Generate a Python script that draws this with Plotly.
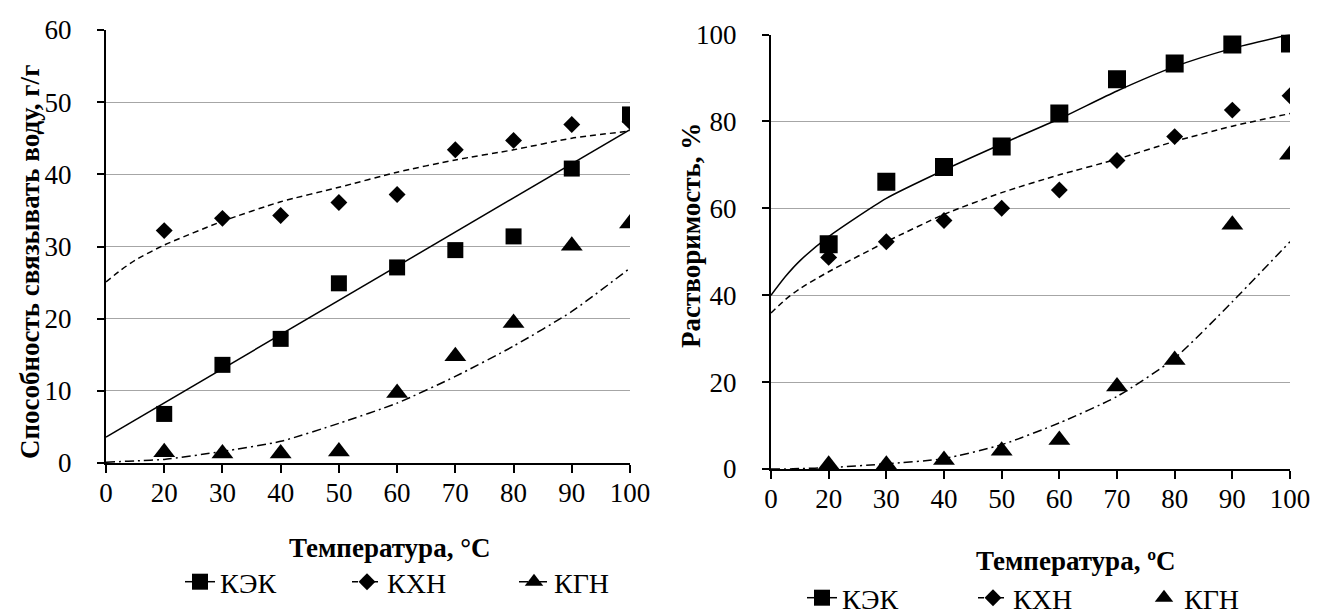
import plotly.graph_objects as go

# ---------------- data ----------------
temps = [20, 30, 40, 50, 60, 70, 80, 90, 100]
x_tick_labels = ["0", "20", "30", "40", "50", "60", "70", "80", "90", "100"]

# left chart: water binding capacity, g/g
left_kek = [6.8, 13.6, 17.2, 24.9, 27.1, 29.5, 31.4, 40.8, 48.3]
left_khn = [32.2, 33.9, 34.3, 36.1, 37.2, 43.4, 44.7, 46.9, 47.3]
left_kgn = [1.5, 1.3, 1.3, 1.6, 9.7, 14.8, 19.4, 30.1, 33.2]

# right chart: solubility, %
right_kek = [51.7, 66.1, 69.5, 74.2, 81.8, 89.7, 93.3, 97.7, 97.9]
right_khn = [48.7, 52.3, 57.2, 60.0, 64.2, 71.0, 76.5, 82.6, 85.9]
right_kgn = [1.0, 1.0, 2.1, 4.2, 6.7, 19.0, 25.1, 56.2, 72.3]

# trend lines (category position -> value)
trend_pos_full = [0, 0.25, 0.5, 1, 2, 3, 4, 5, 6, 7, 8, 9]
trend_pos_ends = [0, 9]
left_kek_trend = [3.6, 46.2]
left_khn_trend = [25.1, 26.7, 28.1, 30.2, 33.5, 36.2, 38.2, 40.3, 42.0, 43.4, 45.0, 46.0]
left_kgn_trend = [0.1, 0.2, 0.3, 0.5, 1.6, 3.0, 5.5, 8.3, 12.0, 16.2, 21.0, 27.0]
right_kek_trend = [40.0, 44.3, 47.9, 53.5, 62.3, 68.8, 74.8, 80.6, 87.0, 92.6, 96.8, 100.0]
right_khn_trend = [35.9, 39.0, 41.5, 45.4, 52.3, 58.6, 63.6, 67.7, 71.3, 75.4, 78.9, 81.8]
right_kgn_trend = [0.0, 0.0, 0.1, 0.3, 1.2, 2.4, 5.6, 10.6, 16.7, 25.5, 38.5, 52.3]

names = ["КЭК", "КХН", "КГН"]

# ---------------- styles ----------------
FONT = '"Times New Roman", "Liberation Serif", Tinos, "DejaVu Serif", serif'
BLACK = "#000000"
GRID = "#a6a6a6"
DASH_KHN = "6px,4px"
DASH_KGN = "9px,4px,2px,4px"

pos = [temps.index(t) + 1 for t in temps]

fig = go.Figure()

def add_chart(xa, ya, leg, kek, khn, kgn, t_kek, t_kek_pos, t_khn, t_kgn,
              sq_size, kgn_legend_line):
    # trend lines
    fig.add_trace(go.Scatter(x=t_kek_pos, y=t_kek, mode="lines", xaxis=xa, yaxis=ya,
                             line=dict(color=BLACK, width=1.5, shape="spline", smoothing=0.6),
                             showlegend=False, hoverinfo="skip"))
    fig.add_trace(go.Scatter(x=trend_pos_full, y=t_khn, mode="lines", xaxis=xa, yaxis=ya,
                             line=dict(color=BLACK, width=1.5, dash=DASH_KHN, shape="spline",
                                       smoothing=0.6),
                             showlegend=False, hoverinfo="skip"))
    fig.add_trace(go.Scatter(x=trend_pos_full, y=t_kgn, mode="lines", xaxis=xa, yaxis=ya,
                             line=dict(color=BLACK, width=1.5, dash=DASH_KGN, shape="spline",
                                       smoothing=0.6),
                             showlegend=False, hoverinfo="skip"))
    # markers
    fig.add_trace(go.Scatter(x=pos, y=kek, mode="markers", xaxis=xa, yaxis=ya,
                             marker=dict(symbol="square", size=sq_size, color=BLACK),
                             showlegend=False))
    fig.add_trace(go.Scatter(x=pos, y=khn, mode="markers", xaxis=xa, yaxis=ya,
                             marker=dict(symbol="diamond", size=13, color=BLACK),
                             showlegend=False))
    fig.add_trace(go.Scatter(x=pos, y=kgn, mode="markers", xaxis=xa, yaxis=ya,
                             marker=dict(symbol="triangle-up", size=19, color=BLACK),
                             showlegend=False))
    # legend entries
    fig.add_trace(go.Scatter(x=[None], y=[None], mode="lines+markers", name=names[0],
                             xaxis=xa, yaxis=ya, legend=leg,
                             line=dict(color=BLACK, width=1.5),
                             marker=dict(symbol="square", size=sq_size, color=BLACK)))
    fig.add_trace(go.Scatter(x=[None], y=[None], mode="lines+markers", name=names[1],
                             xaxis=xa, yaxis=ya, legend=leg,
                             line=dict(color=BLACK, width=1.5, dash=DASH_KHN),
                             marker=dict(symbol="diamond", size=13, color=BLACK)))
    fig.add_trace(go.Scatter(x=[None], y=[None],
                             mode="lines+markers" if kgn_legend_line else "markers",
                             name=names[2], xaxis=xa, yaxis=ya, legend=leg,
                             line=dict(color=BLACK, width=1.5, dash=DASH_KGN),
                             marker=dict(symbol="triangle-up", size=16, color=BLACK)))

add_chart("x", "y", "legend", left_kek, left_khn, left_kgn,
          left_kek_trend, trend_pos_ends, left_khn_trend, left_kgn_trend, 16, True)
add_chart("x2", "y2", "legend2", right_kek, right_khn, right_kgn,
          right_kek_trend, trend_pos_full, right_khn_trend, right_kgn_trend, 18, False)

W, H = 1318, 615

def px_x(p):
    return p / W

def px_y(p):
    return 1 - p / H

tick_font = dict(family=FONT, size=27, color=BLACK)

xaxis_common = dict(range=[0, 9], tickmode="array", tickvals=list(range(len(x_tick_labels))),
                    ticktext=x_tick_labels, showgrid=False, zeroline=False,
                    showline=True, linecolor=BLACK, linewidth=2,
                    ticks="outside", ticklen=8, tickwidth=2, tickcolor=BLACK,
                    tickfont=tick_font, ticklabelstandoff=-3, fixedrange=True)
yaxis_common = dict(showgrid=True, gridcolor=GRID, gridwidth=1, zeroline=False,
                    showline=True, linecolor=BLACK, linewidth=2,
                    ticks="outside", ticklen=7, tickwidth=2, tickcolor=BLACK,
                    tickfont=tick_font, ticklabelstandoff=20, fixedrange=True)

fig.update_layout(
    template="none",
    width=W, height=H,
    margin=dict(l=0, r=0, t=0, b=0, autoexpand=False),
    paper_bgcolor="white", plot_bgcolor="white",
    font=dict(family=FONT, color=BLACK),
    xaxis=dict(domain=[px_x(98), px_x(622)], anchor="y", **xaxis_common),
    yaxis=dict(domain=[px_y(455), px_y(22)], anchor="x", range=[0, 60], dtick=10,
               **yaxis_common),
    xaxis2=dict(domain=[px_x(763), px_x(1282)], anchor="y2", **xaxis_common),
    yaxis2=dict(domain=[px_y(461), px_y(26.5)], anchor="x2", range=[0, 100], dtick=20,
                **yaxis_common),
    legend=dict(orientation="h", x=px_x(172), y=px_y(574), xanchor="left", yanchor="middle",
                font=dict(family=FONT, size=28, color=BLACK), bgcolor="rgba(0,0,0,0)",
                itemwidth=30, entrywidth=122, entrywidthmode="pixels", traceorder="normal"),
    legend2=dict(orientation="h", x=px_x(794), y=px_y(590), xanchor="left", yanchor="middle",
                 font=dict(family=FONT, size=28, color=BLACK), bgcolor="rgba(0,0,0,0)",
                 itemwidth=30, entrywidth=126, entrywidthmode="pixels", traceorder="normal"),
    annotations=[
        dict(text="<b>Способность связывать воду, г/г</b>", textangle=-90,
             x=px_x(22), y=px_y(254), xref="paper", yref="paper",
             xanchor="center", yanchor="middle", showarrow=False,
             font=dict(family=FONT, size=27, color=BLACK)),
        dict(text="<b>Растворимость, %</b>", textangle=-90,
             x=px_x(683), y=px_y(228), xref="paper", yref="paper",
             xanchor="center", yanchor="middle", showarrow=False,
             font=dict(family=FONT, size=27, color=BLACK)),
        dict(text="<b>Температура, °С</b>",
             x=px_x(381), y=px_y(540), xref="paper", yref="paper",
             xanchor="center", yanchor="middle", showarrow=False,
             font=dict(family=FONT, size=27, color=BLACK)),
        dict(text="<b>Температура, ºС</b>",
             x=px_x(1068), y=px_y(553), xref="paper", yref="paper",
             xanchor="center", yanchor="middle", showarrow=False,
             font=dict(family=FONT, size=27, color=BLACK)),
    ],
)

fig.write_html("out.html")
